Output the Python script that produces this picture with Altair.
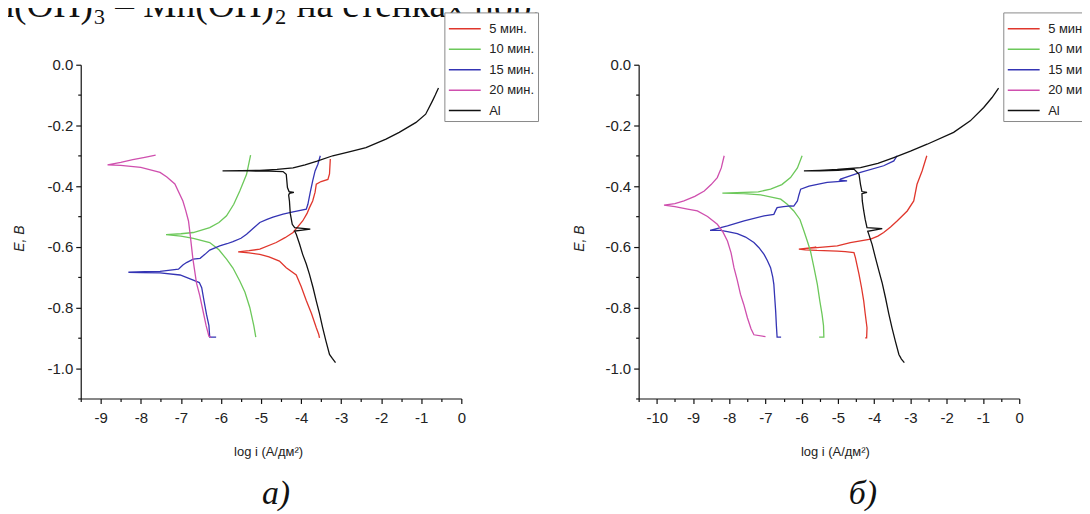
import altair as alt
import pandas as pd

SERIES = ["5 мин.", "10 мин.", "15 мин.", "20 мин.", "Al"]
COLORS = ["#e0362c", "#6cc85a", "#3434b4", "#cf4fae", "#111111"]

TOP_TEXT = ["Mn(OH)₃ – Mn(OH)₂ на стенках пор."]
X_TITLE = "log i (А/дм²)"
Y_TITLE = "E, В"

# ---- panel а) : (log i, E) pairs in sweep order ----
A_RED = [(-3.54, -0.900), (-3.56, -0.888), (-3.62, -0.867), (-3.74, -0.820), (-3.87, -0.777),
         (-4.00, -0.730), (-4.12, -0.693), (-4.37, -0.669), (-4.54, -0.647), (-4.80, -0.633),
         (-5.03, -0.625), (-5.30, -0.620), (-5.57, -0.617), (-5.30, -0.613), (-5.03, -0.608),
         (-4.62, -0.586), (-4.40, -0.570), (-4.20, -0.553), (-3.96, -0.515), (-3.85, -0.490),
         (-3.79, -0.471), (-3.71, -0.449), (-3.65, -0.420), (-3.62, -0.394), (-3.50, -0.385),
         (-3.33, -0.378), (-3.29, -0.360), (-3.27, -0.311)]
A_GREEN = [(-5.13, -0.898), (-5.18, -0.860), (-5.28, -0.800), (-5.40, -0.750), (-5.53, -0.713),
           (-5.70, -0.670), (-5.86, -0.641), (-6.05, -0.610), (-6.28, -0.586), (-6.69, -0.572),
           (-7.00, -0.565), (-7.37, -0.560), (-7.00, -0.557), (-6.69, -0.553), (-6.28, -0.537),
           (-6.05, -0.520), (-5.86, -0.498), (-5.68, -0.460), (-5.53, -0.416), (-5.36, -0.361),
           (-5.26, -0.298)]
A_BLUE = [(-6.12, -0.898), (-6.28, -0.898), (-6.30, -0.860), (-6.36, -0.823), (-6.42, -0.780),
          (-6.48, -0.735), (-6.54, -0.718), (-6.69, -0.710), (-7.02, -0.693), (-7.52, -0.686),
          (-8.00, -0.685), (-8.31, -0.684), (-7.90, -0.682), (-7.52, -0.681), (-7.06, -0.674),
          (-6.95, -0.660), (-6.86, -0.652), (-6.69, -0.641), (-6.52, -0.638), (-6.40, -0.625),
          (-6.28, -0.611), (-6.03, -0.597), (-5.85, -0.590), (-5.70, -0.583), (-5.50, -0.572),
          (-5.36, -0.559), (-5.20, -0.540), (-5.03, -0.520), (-4.85, -0.510), (-4.70, -0.502),
          (-4.45, -0.492), (-4.20, -0.485), (-3.87, -0.476), (-3.83, -0.460), (-3.77, -0.420),
          (-3.71, -0.383), (-3.65, -0.350), (-3.58, -0.328), (-3.52, -0.300)]
A_MAG = [(-6.25, -0.898), (-6.30, -0.895), (-6.37, -0.860), (-6.45, -0.810), (-6.53, -0.760),
         (-6.61, -0.720), (-6.70, -0.640), (-6.77, -0.558), (-6.81, -0.515), (-6.88, -0.480),
         (-6.95, -0.449), (-7.15, -0.393), (-7.35, -0.370), (-7.52, -0.355), (-8.00, -0.338),
         (-8.50, -0.332), (-8.83, -0.330), (-8.50, -0.322), (-8.20, -0.313), (-7.90, -0.305),
         (-7.63, -0.298)]
A_AL = [(-3.14, -0.982), (-3.22, -0.968), (-3.29, -0.955), (-3.38, -0.910), (-3.46, -0.867),
        (-3.54, -0.820), (-3.62, -0.779), (-3.70, -0.735), (-3.79, -0.691), (-3.87, -0.657),
        (-3.96, -0.625), (-4.04, -0.590), (-4.12, -0.559), (-4.16, -0.548), (-3.77, -0.542),
        (-4.16, -0.537), (-4.22, -0.526), (-4.27, -0.490), (-4.29, -0.449), (-4.31, -0.430),
        (-4.29, -0.424), (-4.18, -0.421), (-4.30, -0.418), (-4.34, -0.405), (-4.37, -0.361),
        (-4.45, -0.352), (-4.80, -0.351), (-5.30, -0.350), (-5.96, -0.350), (-5.50, -0.349),
        (-5.03, -0.348), (-4.60, -0.345), (-4.20, -0.340), (-3.90, -0.330), (-3.60, -0.318),
        (-3.21, -0.300), (-2.80, -0.287), (-2.38, -0.273), (-1.88, -0.245), (-1.55, -0.223),
        (-1.13, -0.190), (-0.89, -0.163), (-0.72, -0.119), (-0.65, -0.100), (-0.57, -0.077)]

# ---- panel б) ----
B_RED = [(-4.25, -0.900), (-4.21, -0.900), (-4.20, -0.867), (-4.25, -0.820), (-4.29, -0.779),
         (-4.35, -0.735), (-4.42, -0.691), (-4.52, -0.636), (-4.56, -0.619), (-4.80, -0.616),
         (-5.02, -0.614), (-5.58, -0.612), (-5.90, -0.610), (-6.08, -0.608), (-5.60, -0.601),
         (-5.95, -0.606), (-5.58, -0.603), (-5.02, -0.597), (-4.66, -0.586), (-4.10, -0.575),
         (-3.90, -0.565), (-3.74, -0.553), (-3.55, -0.535), (-3.37, -0.515), (-3.09, -0.482),
         (-2.91, -0.449), (-2.82, -0.394), (-2.68, -0.350), (-2.55, -0.300)]
B_GREEN = [(-5.52, -0.898), (-5.39, -0.898), (-5.40, -0.860), (-5.44, -0.823), (-5.50, -0.780),
           (-5.57, -0.724), (-5.66, -0.670), (-5.76, -0.614), (-5.85, -0.580), (-5.94, -0.548),
           (-6.05, -0.510), (-6.22, -0.482), (-6.40, -0.460), (-6.58, -0.443), (-7.13, -0.429),
           (-7.60, -0.425), (-8.19, -0.423), (-7.59, -0.421), (-7.20, -0.419), (-6.86, -0.410),
           (-6.55, -0.395), (-6.31, -0.372), (-6.12, -0.340), (-5.99, -0.300)]
B_BLUE = [(-6.57, -0.898), (-6.68, -0.898), (-6.70, -0.860), (-6.72, -0.812), (-6.75, -0.760),
          (-6.77, -0.724), (-6.80, -0.700), (-6.86, -0.669), (-6.95, -0.645), (-7.04, -0.625),
          (-7.18, -0.603), (-7.32, -0.586), (-7.55, -0.568), (-7.78, -0.557), (-8.05, -0.550),
          (-8.24, -0.546), (-8.53, -0.546), (-8.05, -0.531), (-7.59, -0.515), (-7.04, -0.498),
          (-6.77, -0.493), (-6.72, -0.480), (-6.68, -0.471), (-6.50, -0.468), (-6.31, -0.465),
          (-6.22, -0.466), (-6.12, -0.449), (-6.08, -0.430), (-6.03, -0.410), (-5.80, -0.400),
          (-5.57, -0.394), (-5.30, -0.388), (-5.02, -0.385), (-4.75, -0.383), (-4.95, -0.380),
          (-4.93, -0.377), (-4.38, -0.355), (-3.74, -0.333), (-3.46, -0.317), (-3.37, -0.300)]
B_MAG = [(-7.00, -0.896), (-7.32, -0.890), (-7.40, -0.870), (-7.50, -0.834), (-7.60, -0.790),
         (-7.69, -0.757), (-7.78, -0.710), (-7.87, -0.669), (-7.95, -0.620), (-8.05, -0.581),
         (-8.18, -0.550), (-8.33, -0.526), (-8.60, -0.500), (-8.88, -0.482), (-9.15, -0.476),
         (-9.50, -0.468), (-9.80, -0.463), (-9.50, -0.458), (-9.25, -0.449), (-8.95, -0.434),
         (-8.69, -0.416), (-8.50, -0.395), (-8.33, -0.372), (-8.22, -0.340), (-8.14, -0.300)]
B_AL = [(-3.17, -0.982), (-3.25, -0.970), (-3.32, -0.955), (-3.42, -0.910), (-3.51, -0.867),
        (-3.60, -0.820), (-3.69, -0.768), (-3.78, -0.720), (-3.87, -0.680), (-3.97, -0.635),
        (-4.06, -0.592), (-4.15, -0.559), (-4.18, -0.549), (-3.78, -0.540), (-4.20, -0.537),
        (-4.25, -0.510), (-4.29, -0.482), (-4.33, -0.449), (-4.34, -0.425), (-4.20, -0.421),
        (-4.34, -0.418), (-4.38, -0.394), (-4.42, -0.361), (-4.56, -0.344), (-5.00, -0.348),
        (-5.50, -0.350), (-5.94, -0.350), (-5.50, -0.348), (-5.02, -0.345), (-4.38, -0.339),
        (-3.90, -0.325), (-3.46, -0.306), (-3.00, -0.285), (-2.54, -0.262), (-1.81, -0.223),
        (-1.35, -0.185), (-0.98, -0.141), (-0.75, -0.108), (-0.57, -0.077)]

X_TICKS_A = [-9.5, -9, -8.5, -8, -7.5, -7, -6.5, -6, -5.5, -5, -4.5, -4, -3.5, -3,
             -2.5, -2, -1.5, -1, -0.5, 0]
X_TICKS_B = [-10.5, -10, -9.5, -9, -8.5, -8, -7.5, -7, -6.5, -6, -5.5, -5, -4.5, -4,
             -3.5, -3, -2.5, -2, -1.5, -1, -0.5, 0]
Y_TICKS = [-1.1, -1.0, -0.9, -0.8, -0.7, -0.6, -0.5, -0.4, -0.3, -0.2, -0.1, 0.0]


def make_df(curves):
    rows = []
    for name, pts in zip(SERIES, curves):
        for i, (lx, e) in enumerate(pts):
            rows.append({"series": name, "logi": lx, "E": e, "idx": i})
    return pd.DataFrame(rows)


AX = dict(labelFont="Liberation Sans", labelFontSize=15, labelColor="#222222",
          domainColor="#111111", tickColor="#111111", domainWidth=1.2, tickWidth=1.2,
          titleFont="Liberation Sans", titleFontWeight="normal", titleColor="#222222",
          grid=False, labelFlush=False, labelOverlap=False)

W, H = 382, 335


def panel(curves, xmin, xticks, legend_x, caption, cap_x, title_x, ytitle_x, top_text=False):
    df = make_df(curves)
    x_major = "datum.value % 1 === 0"
    y_major = "abs(round(datum.value * 10)) % 2 === 0"
    x = alt.X("logi:Q", scale=alt.Scale(domain=[xmin, 0], nice=False, zero=False),
              axis=alt.Axis(values=xticks,
                            labelExpr=f"{x_major} ? toString(datum.value) : ''",
                            tickSize={"condition": {"test": x_major, "value": 5}, "value": 3},
                            labelPadding=7, title=X_TITLE, titleFontSize=13,
                            titleX=title_x, titleY=53, titleBaseline="middle", **AX))
    y = alt.Y("E:Q", scale=alt.Scale(domain=[-1.1, 0], nice=False, zero=False),
              axis=alt.Axis(values=Y_TICKS,
                            labelExpr=f"{y_major} ? replace(format(datum.value, '.1f'), '−', '-') : ''",
                            tickSize={"condition": {"test": y_major, "value": 5}, "value": 3},
                            labelPadding=3, title=Y_TITLE, titleFontSize=14, titleFontStyle="italic",
                            titleX=ytitle_x, titleY=174, titleBaseline="middle", **AX))
    color = alt.Color("series:N", scale=alt.Scale(domain=SERIES, range=COLORS),
                      legend=alt.Legend(orient="none", legendX=legend_x, legendY=-52.5,
                                        title=" ", titleFontSize=6, titlePadding=1,
                                        fillColor="white", strokeColor="#8a8a8a",
                                        padding=3, symbolType="M-1,0H5.4", symbolSize=100,
                                        symbolStrokeWidth=1.5, labelFont="Liberation Sans",
                                        labelFontSize=13, labelColor="#222222",
                                        labelOffset=29, rowPadding=6.5))
    lines = alt.Chart(df).mark_line(strokeWidth=1.3).encode(
        x=x, y=y, color=color, order="idx:Q")
    cap = alt.Chart(pd.DataFrame({"t": [caption]})).mark_text(
        font="Liberation Serif", fontStyle="italic", fontSize=34, align="center",
        baseline="alphabetic", color="#111111").encode(
        text="t:N", x=alt.value(cap_x), y=alt.value(441))
    layers = [lines, cap]
    if top_text:
        top = alt.Chart(pd.DataFrame({"t": TOP_TEXT})).mark_text(
            font="Liberation Serif", fontSize=37.5, align="left", baseline="alphabetic",
            color="#111111").encode(text="t:N", x=alt.value(-119), y=alt.value(-48))
        layers.append(top)
    return alt.layer(*layers).properties(width=W, height=H)


pa = panel([A_RED, A_GREEN, A_BLUE, A_MAG, A_AL], -9.5, X_TICKS_A, 365, "а)", 196, 188, -61,
           top_text=True)
pb = panel([B_RED, B_GREEN, B_BLUE, B_MAG, B_AL], -10.5, X_TICKS_B, 366, "б)", 225, 197, -59)

chart = (alt.hconcat(pa, pb, spacing=178, bounds="flush")
         .resolve_scale(color="independent", x="independent")
         .resolve_legend(color="independent")
         .properties(padding={"left": -46, "top": -22, "right": -16, "bottom": 0},
                     background="white")
         .configure_view(strokeWidth=0))

chart.save("out.html", embed_options={"renderer": "svg", "actions": False})
